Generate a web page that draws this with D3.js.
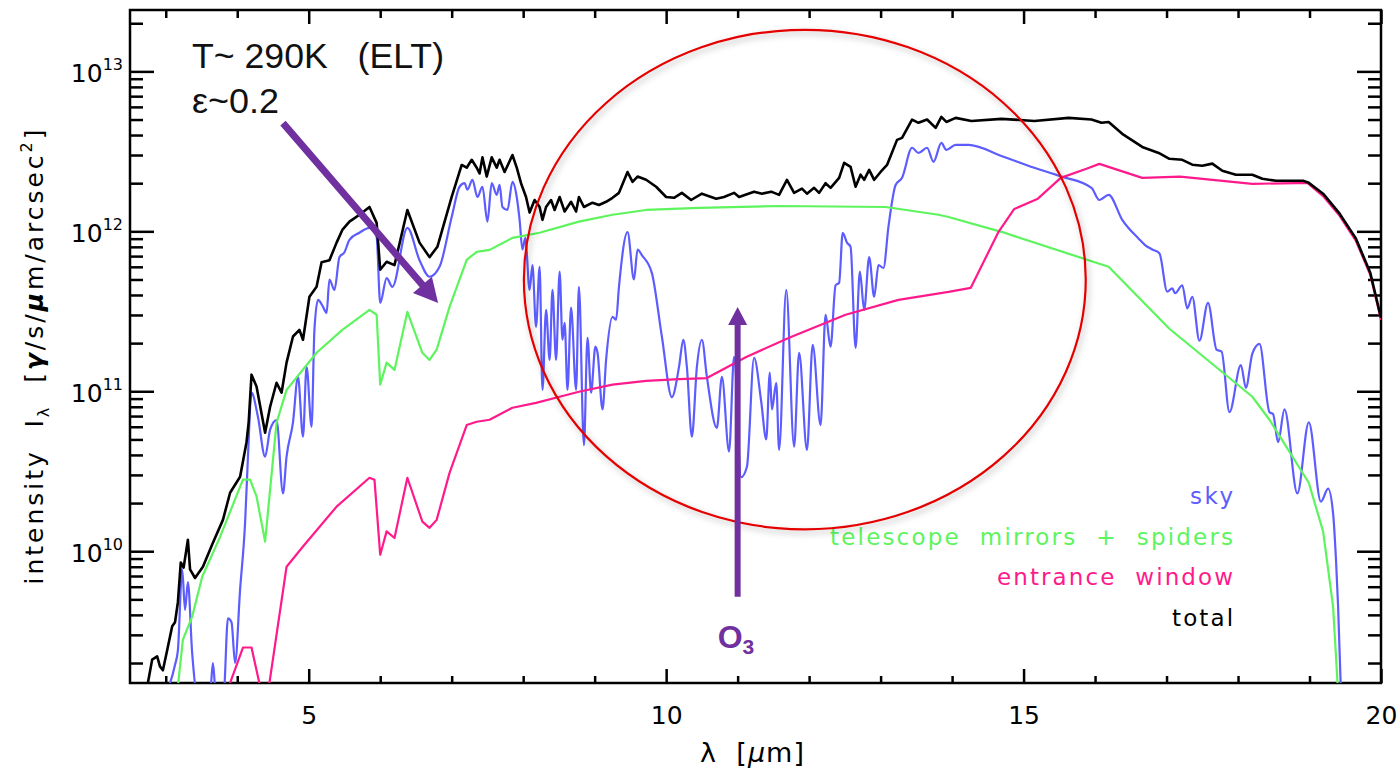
<!DOCTYPE html>
<html>
<head>
<meta charset="utf-8">
<script src="https://cdn.jsdelivr.net/npm/d3@7"></script>
<style>
  body { margin: 0; background: #fff; }
  text { font-family: "DejaVu Sans", sans-serif; }
</style>
</head>
<body>
<svg id="chart"></svg>
<script>
const svgWidth = 1397, svgHeight = 771;
const margin = {top: 10, right: 16, bottom: 88, left: 130};
const width = svgWidth - margin.left - margin.right;
const height = svgHeight - margin.top - margin.bottom;

// wavelength [um], intensity [photons/s/um/arcsec^2]
const sky = [
  [2.99, 1.3e9], [3.06, 1.5e9], [3.13, 1.95e9], [3.17, 2.4e9], [3.23, 7.7e9], [3.27, 4.3e9],
  [3.31, 6.4e9], [3.37, 2.3e9], [3.44, 1.3e9], [3.62, 1.3e9], [3.66, 2.0e9], [3.70, 1.3e9],
  [3.81, 1.3e9], [3.87, 3.8e9], [3.92, 3.6e9], [3.97, 2.0e9], [4.04, 5.75e9], [4.11, 1.51e10],
  [4.15, 3.9e10], [4.20, 9.8e10], [4.29, 6.9e10], [4.39, 3.9e10], [4.46, 5.75e10], [4.55, 6.6e10],
  [4.64, 2.3e10], [4.69, 3.9e10], [4.78, 6.4e10], [4.85, 1.23e11], [4.92, 5.2e10], [4.97, 1.42e11],
  [5.04, 6.0e10], [5.08, 2.42e11], [5.13, 3.73e11], [5.20, 3.37e11], [5.25, 3.09e11], [5.29, 5.0e11],
  [5.36, 4.3e11], [5.43, 6.9e11], [5.50, 7.4e11], [5.57, 8.85e11], [5.71, 9.8e11], [5.85, 1.05e12],
  [5.95, 9.2e11], [6.00, 3.57e11], [6.09, 5.1e11], [6.17, 4.5e11], [6.38, 1.05e12], [6.55, 6.6e11],
  [6.69, 5.2e11], [6.83, 6.0e11], [7.00, 1.23e12], [7.11, 1.9e12], [7.18, 2.0e12], [7.22, 1.82e12],
  [7.29, 2.1e12], [7.36, 1.64e12], [7.43, 1.9e12], [7.50, 1.15e12], [7.56, 2.0e12], [7.63, 1.69e12],
  [7.67, 1.95e12], [7.71, 1.42e12], [7.78, 1.36e12], [7.85, 2.04e12], [7.91, 1.64e12], [7.95, 1.18e12],
  [7.99, 7.7e11], [8.03, 9.1e11], [8.09, 4.3e11], [8.13, 6.15e11], [8.18, 2.53e11], [8.23, 6.0e11],
  [8.27, 1.02e11], [8.32, 3.23e11], [8.37, 1.57e11], [8.41, 4.3e11], [8.46, 1.57e11], [8.51, 5.6e11],
  [8.55, 2.1e11], [8.58, 2.68e11], [8.62, 1.02e11], [8.67, 3.33e11], [8.74, 1.02e11], [8.78, 4.5e11],
  [8.85, 4.6e10], [8.90, 2.16e11], [8.95, 9.8e10], [9.01, 1.9e11], [9.04, 1.74e11], [9.11, 7.7e10],
  [9.16, 1.57e11], [9.25, 2.92e11], [9.30, 2.8e11], [9.34, 4.5e11], [9.46, 9.9e11], [9.55, 5.0e11],
  [9.60, 7.7e11], [9.66, 7.1e11], [9.80, 5.5e11], [9.94, 2.2e11], [10.08, 9.2e10], [10.18, 1.42e11],
  [10.24, 2.1e11], [10.29, 1.42e11], [10.36, 5.2e10], [10.43, 1.42e11], [10.50, 2.1e11], [10.57, 1.23e11],
  [10.71, 5.9e10], [10.78, 1.23e11], [10.88, 4.2e10], [10.95, 1.64e11], [11.05, 2.9e10], [11.13, 3.37e10],
  [11.23, 1.62e11], [11.33, 8.6e10], [11.40, 5.0e10], [11.45, 1.31e11], [11.48, 7.7e10], [11.54, 1.13e11],
  [11.58, 4.3e10], [11.68, 4.3e11], [11.79, 4.5e10], [11.86, 1.74e11], [11.97, 4.3e10], [12.05, 1.95e11],
  [12.16, 6.15e10], [12.23, 3.0e11], [12.30, 1.9e11], [12.37, 4.6e11], [12.42, 4.77e11], [12.47, 9.8e11],
  [12.53, 8.5e11], [12.58, 8.0e11], [12.65, 1.87e11], [12.71, 5.6e11], [12.77, 3.23e11], [12.84, 6.9e11],
  [12.91, 3.9e11], [12.97, 6.15e11], [13.04, 5.9e11], [13.11, 1.07e12], [13.21, 1.95e12], [13.30, 2.16e12],
  [13.44, 3.33e12], [13.53, 3.09e12], [13.65, 3.33e12], [13.74, 2.72e12], [13.85, 3.57e12], [13.92, 3.23e12],
  [14.05, 3.47e12], [14.23, 3.47e12], [14.69, 2.96e12], [15.15, 2.5e12], [15.53, 2.2e12], [15.95, 1.87e12],
  [16.06, 1.57e12], [16.19, 1.69e12], [16.38, 1.18e12], [16.61, 9.0e11], [16.70, 8.2e11], [16.80, 7.7e11],
  [16.90, 7.3e11], [17.01, 4.2e11], [17.08, 4.4e11], [17.12, 4.1e11], [17.22, 4.6e11], [17.29, 3.3e11],
  [17.36, 3.9e11], [17.46, 2.07e11], [17.58, 3.57e11], [17.70, 1.82e11], [17.77, 1.77e11], [17.88, 7.4e10],
  [18.04, 1.46e11], [18.11, 1.05e11], [18.20, 1.72e11], [18.30, 1.98e11], [18.44, 7.4e10], [18.49, 7.2e10],
  [18.56, 4.8e10], [18.65, 7.7e10], [18.83, 2.3e10], [18.99, 6.4e10], [19.16, 2.04e10], [19.26, 2.46e10],
  [19.33, 1.72e10], [19.37, 8.9e9], [19.40, 4.5e9], [19.44, 1.3e9]
];

const telescope = [
  [3.16, 1.3e9], [3.24, 2.8e9], [3.37, 3.9e9], [3.51, 6.93e9], [3.76, 1.23e10], [4.08, 2.8e10],
  [4.18, 2.8e10], [4.27, 2.2e10], [4.39, 1.15e10], [4.55, 6.36e10], [4.69, 1.02e11], [5.11, 1.74e11],
  [5.47, 2.42e11], [5.85, 3.23e11], [5.95, 3.01e11], [6.00, 1.10e11], [6.09, 1.51e11], [6.20, 1.36e11],
  [6.38, 3.14e11], [6.59, 1.74e11], [6.69, 1.57e11], [6.79, 1.82e11], [6.97, 3.37e11], [7.21, 6.64e11],
  [7.35, 7.44e11], [7.53, 7.66e11], [7.85, 9.1e11], [8.23, 9.8e11], [8.78, 1.15e12], [9.25, 1.27e12],
  [9.72, 1.36e12], [10.46, 1.40e12], [11.58, 1.44e12], [13.07, 1.42e12], [13.81, 1.27e12], [13.95, 1.23e12],
  [14.69, 9.93e11], [16.19, 6.0e11], [17.04, 2.46e11], [18.20, 9.24e10], [18.44, 6.64e10], [18.99, 2.68e10],
  [19.19, 1.33e10], [19.33, 4.5e9], [19.40, 1.3e9]
];

const entranceWindow = [
  [3.85, 1.3e9], [4.08, 2.5e9], [4.20, 2.5e9], [4.34, 1.3e9], [4.43, 1.3e9], [4.69, 8.0e9],
  [4.92, 1.07e10], [5.39, 1.9e10], [5.85, 2.88e10], [5.92, 2.8e10], [6.00, 9.5e9], [6.09, 1.33e10],
  [6.20, 1.21e10], [6.38, 2.88e10], [6.59, 1.53e10], [6.69, 1.40e10], [6.79, 1.57e10], [6.97, 3.09e10],
  [7.21, 6.15e10], [7.35, 6.45e10], [7.53, 6.64e10], [7.85, 7.89e10], [8.18, 8.47e10], [8.51, 9.24e10],
  [8.78, 9.93e10], [9.25, 1.10e11], [9.72, 1.16e11], [10.18, 1.19e11], [10.57, 1.21e11], [11.12, 1.64e11],
  [11.72, 2.16e11], [12.51, 3.01e11], [13.25, 3.73e11], [13.95, 4.18e11], [14.26, 4.43e11], [14.65, 9.93e11],
  [14.87, 1.38e12], [15.20, 1.60e12], [15.52, 2.16e12], [15.88, 2.46e12], [16.06, 2.64e12], [16.66, 2.16e12],
  [17.19, 2.20e12], [18.20, 1.98e12], [18.97, 2.01e12], [19.19, 1.66e12], [19.41, 1.27e12], [19.65, 8.7e11],
  [19.85, 5.35e11], [20.00, 2.8e11]
];

const total = [
  [2.64, 1.3e9], [2.75, 1.5e9], [2.81, 2.1e9], [2.88, 2.2e9], [2.92, 1.9e9], [2.96, 1.8e9],
  [3.02, 2.4e9], [3.09, 3.4e9], [3.13, 3.6e9], [3.17, 4.8e9], [3.21, 8.5e9], [3.25, 7.9e9],
  [3.31, 1.18e10], [3.34, 7.7e9], [3.41, 6.8e9], [3.52, 8.0e9], [3.66, 1.13e10], [3.80, 1.57e10],
  [3.90, 2.32e10], [4.04, 2.92e10], [4.13, 4.8e10], [4.16, 6.4e10], [4.20, 1.27e11], [4.27, 1.07e11],
  [4.39, 5.5e10], [4.46, 8.0e10], [4.55, 1.13e11], [4.62, 9.8e10], [4.69, 1.51e11], [4.78, 2.2e11],
  [4.87, 2.42e11], [4.92, 2.1e11], [5.01, 3.9e11], [5.11, 4.5e11], [5.18, 6.4e11], [5.29, 6.6e11],
  [5.39, 8.5e11], [5.47, 1.02e12], [5.57, 1.15e12], [5.71, 1.27e12], [5.85, 1.42e12], [5.95, 1.13e12],
  [6.00, 5.75e11], [6.09, 6.45e11], [6.20, 6.15e11], [6.38, 1.36e12], [6.55, 8.5e11], [6.69, 6.9e11],
  [6.80, 8.0e11], [7.00, 1.64e12], [7.14, 2.6e12], [7.21, 2.5e12], [7.28, 2.8e12], [7.35, 2.5e12],
  [7.39, 2.3e12], [7.43, 2.9e12], [7.49, 2.2e12], [7.56, 2.9e12], [7.63, 2.5e12], [7.67, 2.8e12],
  [7.74, 2.35e12], [7.85, 3.0e12], [7.91, 2.5e12], [7.97, 2.0e12], [8.04, 1.64e12], [8.09, 1.31e12],
  [8.16, 1.57e12], [8.23, 1.42e12], [8.27, 1.18e12], [8.32, 1.42e12], [8.39, 1.57e12], [8.44, 1.36e12],
  [8.51, 1.64e12], [8.58, 1.33e12], [8.67, 1.53e12], [8.74, 1.33e12], [8.78, 1.64e12], [8.85, 1.42e12],
  [8.97, 1.51e12], [9.06, 1.46e12], [9.16, 1.53e12], [9.25, 1.62e12], [9.34, 1.74e12], [9.46, 2.35e12],
  [9.53, 2.04e12], [9.60, 2.2e12], [9.72, 2.1e12], [9.86, 1.9e12], [10.00, 1.64e12], [10.11, 1.62e12],
  [10.22, 1.74e12], [10.35, 1.57e12], [10.50, 1.72e12], [10.70, 1.6e12], [10.81, 1.64e12], [10.95, 1.74e12],
  [11.02, 1.64e12], [11.23, 1.77e12], [11.34, 1.72e12], [11.47, 1.77e12], [11.58, 1.69e12], [11.69, 2.1e12],
  [11.79, 1.74e12], [11.90, 1.85e12], [11.97, 1.72e12], [12.07, 1.87e12], [12.14, 1.74e12], [12.23, 2.0e12],
  [12.30, 1.87e12], [12.42, 2.16e12], [12.49, 2.68e12], [12.58, 2.53e12], [12.65, 1.9e12], [12.72, 2.26e12],
  [12.77, 2.1e12], [12.84, 2.42e12], [12.91, 2.1e12], [13.00, 2.35e12], [13.09, 2.6e12], [13.23, 3.73e12],
  [13.30, 3.84e12], [13.44, 5.0e12], [13.53, 4.77e12], [13.65, 5.0e12], [13.77, 4.43e12], [13.85, 5.2e12],
  [13.92, 4.83e12], [14.05, 5.12e12], [14.27, 4.9e12], [14.69, 5.05e12], [15.15, 4.9e12], [15.63, 5.12e12],
  [15.95, 5.0e12], [16.09, 4.77e12], [16.19, 4.83e12], [16.38, 4.07e12], [16.66, 3.37e12], [16.89, 3.09e12],
  [17.04, 2.84e12], [17.22, 2.8e12], [17.36, 2.61e12], [17.50, 2.57e12], [17.64, 2.65e12], [17.78, 2.39e12],
  [17.97, 2.26e12], [18.20, 2.26e12], [18.34, 2.13e12], [18.53, 2.07e12], [18.91, 2.07e12], [18.99, 2.01e12],
  [19.19, 1.72e12], [19.41, 1.31e12], [19.65, 9.0e11], [19.85, 5.5e11], [20.00, 2.88e11]
];

const xTicks = [5, 10, 15, 20];
const xMinorTicks = [3, 4, 6, 7, 8, 9, 11, 12, 13, 14, 16, 17, 18, 19];
const yTicks = [1e10, 1e11, 1e12, 1e13];
const yTickExponents = ["10", "11", "12", "13"];
const legendLabels = ["sky", "telescope  mirrors  +  spiders", "entrance  window", "total"];
const legendWidths = [43, 403, 236, 61];

// annotation anchors in data units
const epsArrow = [[4.64, 4.75e12], [6.81, 3.56e11]];
const o3Arrow = [[11.0, 5.2e9], [11.0, 3.37e11]];
const circleBox = [[8.01, 1.37e10], [15.87, 1.82e13]];

const colors = {sky: "#5c5cff", telescope: "#5df45d", window: "#ff1a8c", total: "#000000"};
const legendColors = [colors.sky, colors.telescope, colors.window, colors.total];
const annotFont = "'Liberation Sans', Arial, sans-serif";

const svg = d3.select("#chart")
  .attr("width", svgWidth)
  .attr("height", svgHeight);

const defs = svg.append("defs");
defs.append("clipPath").attr("id", "plotClip")
  .append("rect").attr("width", width).attr("height", height);
const shadow = defs.append("filter").attr("id", "shadow")
  .attr("x", "-10%").attr("y", "-10%").attr("width", "130%").attr("height", "130%");
shadow.append("feDropShadow")
  .attr("dx", 2).attr("dy", 3).attr("stdDeviation", 3)
  .attr("flood-color", "#000").attr("flood-opacity", 0.3);

const g = svg.append("g")
  .attr("transform", "translate(" + margin.left + "," + margin.top + ")");

const x = d3.scaleLinear().domain([2.5, 20]).range([0, width]);
const y = d3.scaleLog().domain([1.5e9, 2.42e13]).range([height, 0]);

// y minor ticks: 2..9 x 10^k inside the domain
let yMinor = [];
for (let k = 9; k <= 13; k++) {
  for (let m = 2; m <= 9; m++) {
    let v = m * Math.pow(10, k);
    if (v > y.domain()[0] && v < y.domain()[1]) yMinor.push(v);
  }
}

const tickStyle = (sel) => {
  sel.select(".domain").remove();
  sel.selectAll("line").attr("stroke", "#000").attr("stroke-width", 2.5);
};

// bottom / top
g.append("g").attr("transform", "translate(0," + height + ")")
  .call(d3.axisBottom(x).tickValues(xMinorTicks).tickSize(-7).tickFormat(""))
  .call(tickStyle);
g.append("g").attr("transform", "translate(0," + height + ")")
  .call(d3.axisBottom(x).tickValues(xTicks).tickSize(-14).tickPadding(23).tickFormat(d3.format("d")))
  .call(tickStyle)
  .selectAll("text")
  .attr("font-size", 25).attr("fill", "#000")
  .style("font-family", "DejaVu Sans");
g.append("g")
  .call(d3.axisTop(x).tickValues(xMinorTicks).tickSize(-8).tickFormat(""))
  .call(tickStyle);
g.append("g")
  .call(d3.axisTop(x).tickValues(xTicks).tickSize(-14).tickFormat(""))
  .call(tickStyle);

// left / right
g.append("g")
  .call(d3.axisLeft(y).tickValues(yMinor).tickSize(-13).tickFormat(""))
  .call(tickStyle);
g.append("g")
  .call(d3.axisLeft(y).tickValues(yTicks).tickSize(-24).tickFormat(""))
  .call(tickStyle);
g.append("g").attr("transform", "translate(" + width + ",0)")
  .call(d3.axisRight(y).tickValues(yMinor).tickSize(-13).tickFormat(""))
  .call(tickStyle);
g.append("g").attr("transform", "translate(" + width + ",0)")
  .call(d3.axisRight(y).tickValues(yTicks).tickSize(-24).tickFormat(""))
  .call(tickStyle);

// y tick labels 10^n
const yLab = g.append("g").selectAll("text")
  .data(yTicks)
  .enter().append("text")
  .attr("x", -7)
  .attr("y", d => y(d) + 11)
  .attr("text-anchor", "end")
  .attr("font-size", 25)
  .attr("fill", "#000");
yLab.append("tspan").text("10");
yLab.append("tspan")
  .attr("dy", -12).attr("font-size", 16)
  .text((d, i) => yTickExponents[i]);

// frame
g.append("rect")
  .attr("width", width).attr("height", height)
  .attr("fill", "none").attr("stroke", "#000").attr("stroke-width", 2.5);

// curves
const line = d3.line()
  .x(d => x(d[0]))
  .y(d => y(d[1]));
const smoothLine = d3.line()
  .curve(d3.curveMonotoneX)
  .x(d => x(d[0]))
  .y(d => y(d[1]));

const curves = g.append("g").attr("clip-path", "url(#plotClip)");
curves.append("path").datum(sky)
  .attr("fill", "none").attr("stroke", colors.sky).attr("stroke-width", 2.2)
  .attr("stroke-linejoin", "round").attr("d", smoothLine);
curves.append("path").datum(telescope)
  .attr("fill", "none").attr("stroke", colors.telescope).attr("stroke-width", 2.2)
  .attr("stroke-linejoin", "round").attr("d", line);
curves.append("path").datum(entranceWindow)
  .attr("fill", "none").attr("stroke", colors.window).attr("stroke-width", 2.2)
  .attr("stroke-linejoin", "round").attr("d", line);
curves.append("path").datum(total)
  .attr("fill", "none").attr("stroke", colors.total).attr("stroke-width", 2.6)
  .attr("stroke-linejoin", "round").attr("d", line);

// legend, right aligned inside the plot
g.append("g").selectAll("text")
  .data(legendLabels)
  .enter().append("text")
  .attr("x", x(17.93))
  .attr("y", (d, i) => 494 + i * 40.7)
  .attr("text-anchor", "end")
  .attr("font-size", 23)
  .attr("textLength", (d, i) => legendWidths[i])
  .attr("lengthAdjust", "spacing")
  .style("white-space", "pre")
  .attr("fill", (d, i) => legendColors[i])
  .text(d => d);

// axis titles
const yTitle = svg.append("text")
  .attr("transform", "translate(43,357) rotate(-90)")
  .attr("text-anchor", "middle")
  .attr("font-size", 25)
  .attr("textLength", 455)
  .attr("lengthAdjust", "spacing")
  .style("white-space", "pre")
  .attr("fill", "#000");
yTitle.append("tspan").text("intensity  I");
yTitle.append("tspan").attr("dy", 6).attr("font-size", 16).text("\u03bb");
yTitle.append("tspan").attr("dy", -6).text("  [");
yTitle.append("tspan").attr("font-style", "italic").attr("font-weight", "bold").text("\u03b3");
yTitle.append("tspan").text("/s/");
yTitle.append("tspan").attr("font-style", "italic").attr("font-weight", "bold").text("\u03bc");
yTitle.append("tspan").text("m/arcsec");
yTitle.append("tspan").attr("dy", -11).attr("font-size", 16).text("2");
yTitle.append("tspan").attr("dy", 11).text("]");

const xTitle = svg.append("text")
  .attr("x", 752)
  .attr("y", 762)
  .attr("text-anchor", "middle")
  .attr("font-size", 27)
  .attr("textLength", 104)
  .attr("lengthAdjust", "spacing")
  .style("white-space", "pre")
  .attr("fill", "#000");
xTitle.append("tspan").text("\u03bb  [");
xTitle.append("tspan").attr("font-style", "italic").text("\u03bc");
xTitle.append("tspan").text("m]");

// annotations
const arrowPath = (p0, p1, sw, hl, hw) => {
  let x0 = x(p0[0]), y0 = y(p0[1]), x1 = x(p1[0]), y1 = y(p1[1]);
  let dx = x1 - x0, dy = y1 - y0, L = Math.hypot(dx, dy);
  let ux = dx / L, uy = dy / L, nx = -uy, ny = ux;
  let bx = x1 - ux * hl, by = y1 - uy * hl;
  let pts = [
    [x0 + nx * sw / 2, y0 + ny * sw / 2],
    [bx + nx * sw / 2, by + ny * sw / 2],
    [bx + nx * hw / 2, by + ny * hw / 2],
    [x1, y1],
    [bx - nx * hw / 2, by - ny * hw / 2],
    [bx - nx * sw / 2, by - ny * sw / 2],
    [x0 - nx * sw / 2, y0 - ny * sw / 2]
  ];
  return d3.line()(pts) + "Z";
};

const purple = "#7030a0";

g.append("ellipse")
  .attr("cx", (x(circleBox[0][0]) + x(circleBox[1][0])) / 2)
  .attr("cy", (y(circleBox[0][1]) + y(circleBox[1][1])) / 2)
  .attr("rx", (x(circleBox[1][0]) - x(circleBox[0][0])) / 2)
  .attr("ry", (y(circleBox[0][1]) - y(circleBox[1][1])) / 2)
  .attr("fill", "none")
  .attr("stroke", "#e50000")
  .attr("stroke-width", 2.2)
  .attr("filter", "url(#shadow)");

g.append("path")
  .attr("d", arrowPath(epsArrow[0], epsArrow[1], 7, 24, 25))
  .attr("fill", purple);
g.append("path")
  .attr("d", arrowPath(o3Arrow[0], o3Arrow[1], 6, 18, 19))
  .attr("fill", purple);

const o3 = g.append("text")
  .attr("x", x(o3Arrow[0][0]) - 20)
  .attr("y", y(o3Arrow[0][1]) + 51)
  .style("font-family", annotFont)
  .attr("font-weight", "bold")
  .attr("font-size", 32)
  .attr("fill", purple);
o3.append("tspan").text("O");
o3.append("tspan").attr("dy", 6).attr("font-size", 21).text("3");

svg.append("text")
  .attr("x", 192).attr("y", 68)
  .style("font-family", annotFont)
  .attr("font-size", 35)
  .attr("textLength", 252)
  .attr("lengthAdjust", "spacingAndGlyphs")
  .style("white-space", "pre")
  .attr("fill", "#111")
  .text("T~ 290K   (ELT)");
svg.append("text")
  .attr("x", 192).attr("y", 113)
  .style("font-family", annotFont)
  .attr("font-size", 35)
  .attr("textLength", 87)
  .attr("lengthAdjust", "spacingAndGlyphs")
  .attr("fill", "#111")
  .text("\u03b5~0.2");
</script>
</body>
</html>
